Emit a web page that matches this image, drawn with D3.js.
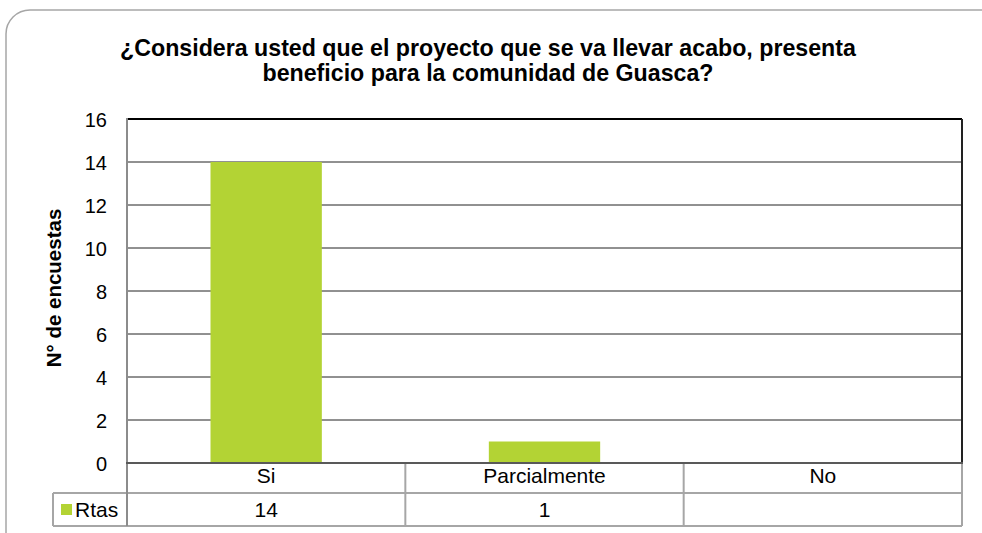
<!DOCTYPE html>
<html><head><meta charset="utf-8">
<script src="https://cdn.jsdelivr.net/npm/d3@7"></script>
<style>body{margin:0;background:#fff}svg{display:block;font-family:"Liberation Sans",Arial,sans-serif}</style>
</head><body>
<script>
const categories = ["Si", "Parcialmente", "No"];
const values = [14, 1, null];
const seriesName = "Rtas";
const yTicks = [0, 2, 4, 6, 8, 10, 12, 14, 16];
const titleLines = ["¿Considera usted que el proyecto que se va llevar acabo, presenta", "beneficio para la comunidad de Guasca?"];
const yLabel = "N° de encuestas";

const W = 982, H = 533;
const svg = d3.select("body").append("svg").attr("width", W).attr("height", H);
const green = "#b3d334";

// outer frame
svg.append("rect").attr("x", 6).attr("y", 10).attr("width", 1000).attr("height", 560)
  .attr("rx", 24).attr("fill", "#fff").attr("stroke", "#a6a6a6").attr("stroke-width", 1.5);

// title
svg.append("text").attr("x", 488).attr("y", 56).attr("text-anchor", "middle")
  .attr("font-weight", "bold").attr("font-size", 23.2).attr("fill", "#000")
  .selectAll("tspan").data(titleLines).join("tspan")
  .attr("x", 488).attr("dy", (d, i) => i ? 24.5 : 0).text(d => d);

const m = {left: 127, right: 962, top: 119, bottom: 463};
const x = d3.scaleBand().domain(categories).range([m.left, m.right]).paddingInner(0).paddingOuter(0);
const y = d3.scaleLinear().domain([0, 16]).range([m.bottom, m.top]);

// gridlines
svg.append("g").selectAll("line").data(yTicks.filter(t => t > 0 && t < 16)).join("line")
  .attr("x1", m.left).attr("x2", m.right).attr("y1", d => y(d)).attr("y2", d => y(d))
  .attr("stroke", "#222").attr("stroke-width", 1);

// bars
const bw = x.bandwidth() * 0.4;
svg.append("g").selectAll("rect").data(categories.map((c, i) => ({c, v: values[i]})).filter(d => d.v != null)).join("rect")
  .attr("x", d => x(d.c) + (x.bandwidth() - bw) / 2).attr("width", bw)
  .attr("y", d => y(d.v)).attr("height", d => y(0) - y(d.v)).attr("fill", green);

// plot borders
svg.append("line").attr("x1", m.left).attr("x2", m.right).attr("y1", m.top).attr("y2", m.top).attr("stroke", "#000").attr("stroke-width", 2);
svg.append("line").attr("x1", m.right).attr("x2", m.right).attr("y1", m.top).attr("y2", m.bottom).attr("stroke", "#222").attr("stroke-width", 2);

// y axis
const yAxis = d3.axisLeft(y).tickValues(yTicks).tickSize(0).tickPadding(20);
const ga = svg.append("g").attr("transform", `translate(${m.left},0)`).call(yAxis);
ga.select(".domain").remove();
ga.selectAll("text").attr("font-size", 20).attr("dy", "0.36em").attr("font-family", "Liberation Sans, Arial, sans-serif").attr("fill", "#000");
svg.append("line").attr("x1", m.left).attr("x2", m.left).attr("y1", m.top - 1).attr("y2", m.bottom).attr("stroke", "#8c8c8c").attr("stroke-width", 2);

// y label
svg.append("text").attr("transform", "translate(61,288) rotate(-90)").attr("text-anchor", "middle")
  .attr("font-weight", "bold").attr("font-size", 20.5).attr("fill", "#000").text(yLabel);

// data table
const r1 = 493, r2 = 526, legL = 53;
const tg = svg.append("g");
const tc = "#a6a6a6";
tg.append("line").attr("x1", m.left).attr("x2", m.right).attr("y1", r1).attr("y2", r1).attr("stroke", tc).attr("stroke-width", 2);
tg.append("line").attr("x1", legL).attr("x2", m.left).attr("y1", r1).attr("y2", r1).attr("stroke", tc).attr("stroke-width", 2);
tg.append("line").attr("x1", legL).attr("x2", m.right).attr("y1", r2).attr("y2", r2).attr("stroke", tc).attr("stroke-width", 2);
tg.append("line").attr("x1", legL).attr("x2", legL).attr("y1", r1).attr("y2", r2).attr("stroke", tc).attr("stroke-width", 2);
const xs = categories.map(c => x(c)).concat([m.right]);
tg.selectAll("line.v").data(xs).join("line").attr("class", "v")
  .attr("x1", d => d).attr("x2", d => d).attr("y1", m.bottom).attr("y2", r2)
  .attr("stroke", (d, i) => i === 0 ? "#8c8c8c" : tc).attr("stroke-width", 2);
svg.append("line").attr("x1", m.left - 1).attr("x2", m.right + 1).attr("y1", m.bottom).attr("y2", m.bottom).attr("stroke", "#595959").attr("stroke-width", 2);

tg.selectAll("text.cat").data(categories).join("text").attr("class", "cat")
  .attr("x", d => x(d) + x.bandwidth() / 2).attr("y", 483).attr("text-anchor", "middle")
  .attr("font-size", 21).attr("fill", "#000").text(d => d);
tg.selectAll("text.val").data(categories.map((c, i) => ({c, v: values[i]}))).join("text").attr("class", "val")
  .attr("x", d => x(d.c) + x.bandwidth() / 2).attr("y", 517).attr("text-anchor", "middle")
  .attr("font-size", 21).attr("fill", "#000").text(d => d.v == null ? "" : d.v);
tg.append("rect").attr("x", 61).attr("y", 504).attr("width", 11).attr("height", 11).attr("fill", green);
tg.append("text").attr("x", 75).attr("y", 517).attr("font-size", 21).attr("fill", "#000").text(seriesName);
</script>
</body></html>
